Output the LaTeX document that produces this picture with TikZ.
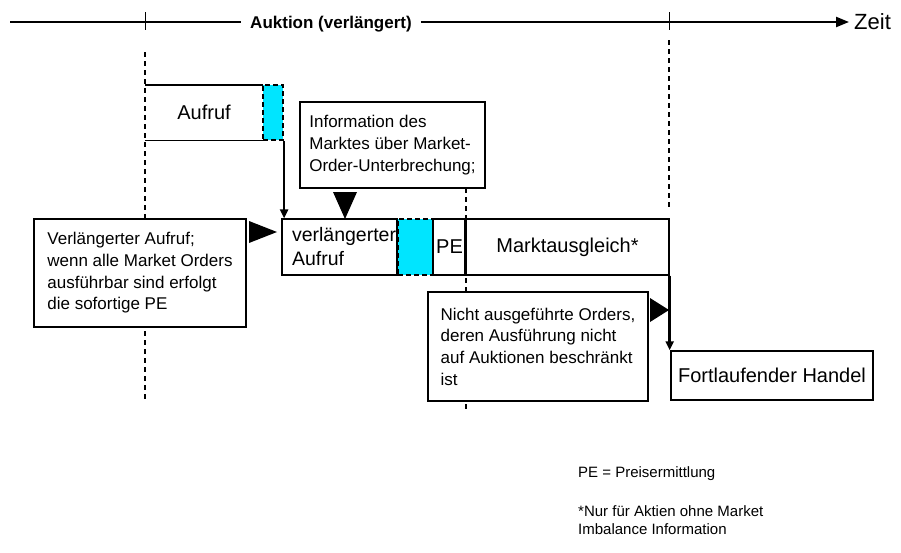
\documentclass[tikz,border=0pt]{standalone}
\usepackage{fontspec}
\setmainfont{Liberation Sans}
\usetikzlibrary{arrows.meta}
\definecolor{callcyan}{RGB}{0,229,255}
\begin{document}
\begin{tikzpicture}[x=1pt,y=-1pt,
  frame/.style={draw=black, line width=1.4pt, fill=white, inner sep=0pt},
  edge/.style={draw=black, line width=1.4pt},
  txt/.style={font=\fontsize{17}{21.7}\selectfont, align=left},
  big/.style={font=\fontsize{20}{24}\selectfont},
  cyanbox/.style={draw=black, fill=callcyan, line width=2.2pt, dash pattern=on 5pt off 3pt, inner sep=0pt},
  guide/.style={line width=2.2pt, dash pattern=on 5pt off 4pt},
  flow/.style={line width=2.6pt, -{Triangle[length=9pt,width=8pt]}},
  axis/.style={line width=2.2pt},
  tick/.style={line width=1pt},
  marker/.style={fill=black},
  note/.style={font=\fontsize{15}{18}\selectfont, inner sep=0pt},
]
\useasboundingbox (0,0) rectangle (901,552);

% time axis
\coordinate (axL) at (10,22);
\coordinate (axR) at (849,22);
\node[font=\bfseries\fontsize{17}{20}\selectfont, inner xsep=9pt, inner ysep=0pt] (auk) at (331,24.5) {Auktion (verlängert)};
\draw[axis] (axL) -- (axL -| auk.west);
\draw[axis, -{Triangle[length=13pt,width=10pt]}] (axL -| auk.east) -- (axR);
\node[anchor=base west, inner sep=0pt, font=\fontsize{22}{26}\selectfont] (zeit) at (854,29) {Zeit};
\draw[tick] (145,12) -- (145,30);
\draw[tick] (669,12) -- (669,30);

% dashed phase boundaries
\draw[guide] (145,52) -- (145,402);
\draw[guide] (466,188) -- (466,410);
\draw[guide] (669,40) -- (669,210);

% call phase
\node[big, minimum width=118pt, minimum height=55pt, inner sep=0pt] (aufruf) at (204,112.5) {Aufruf};
\draw[edge] (aufruf.north west) -- (aufruf.north east) (aufruf.south west) -- (aufruf.south east);
\node[cyanbox, minimum width=20pt, minimum height=55pt] (cyanA) at (273,112.5) {};

% information box
\node[frame, txt, minimum width=185pt, minimum height=86pt] (info) at (392.5,145)
  {Information des\\Marktes über Market-\\Order-Unterbrechung;};

% extended call explanation
\node[frame, txt, minimum width=212pt, minimum height=108pt] (expl) at (140,273)
  {Verlängerter Aufruf;\\wenn alle Market Orders\\ausführbar sind erfolgt\\die sofortige PE};

% extended call, price determination, market balancing
\node[frame, font=\fontsize{19.5}{24}\selectfont, align=left, text width=95pt, inner xsep=10pt, inner ysep=0pt, minimum height=56pt] (verl) at (339.5,247)
  {verlängerter\\Aufruf};
\node[cyanbox, minimum width=35pt, minimum height=56pt] (cyanB) at (415.5,247) {};
\node[frame, big, minimum width=33pt, minimum height=56pt] (pe) at (449.5,247) {PE};
\node[frame, big, minimum width=203pt, minimum height=56pt] (markt) at (567.5,247) {Marktausgleich*};
\draw[line width=2.6pt] (markt.north west) -- (markt.south west);

% unexecuted orders
\node[frame, txt, minimum width=220pt, minimum height=109pt] (nicht) at (538,346.5)
  {Nicht ausgeführte Orders,\\deren Ausführung nicht\\auf Auktionen beschränkt\\ist};

% continuous trading
\node[frame, big, minimum width=202pt, minimum height=49pt] (fort) at (772,375.5) {Fortlaufender Handel};

% transitions
\draw[flow] (cyanA.south east) -- (cyanA.south east |- verl.north);
\draw[flow] (markt.south east) -- (markt.south east |- fort.north);

% pointer triangles
\fill[marker] (333,192) -- (357,192) -- (345,219) -- cycle;
\fill[marker] (249,221) -- (249,243) -- (277,232) -- cycle;
\fill[marker] (650,298) -- (650,322) -- (669,310) -- cycle;

% footnotes
\node[note, anchor=base west] (legend) at (578,477) {PE = Preisermittlung};
\node[note, anchor=north west, align=left] (star) at (578,505)
  {*Nur für Aktien ohne Market\\Imbalance Information};
\end{tikzpicture}
\end{document}
